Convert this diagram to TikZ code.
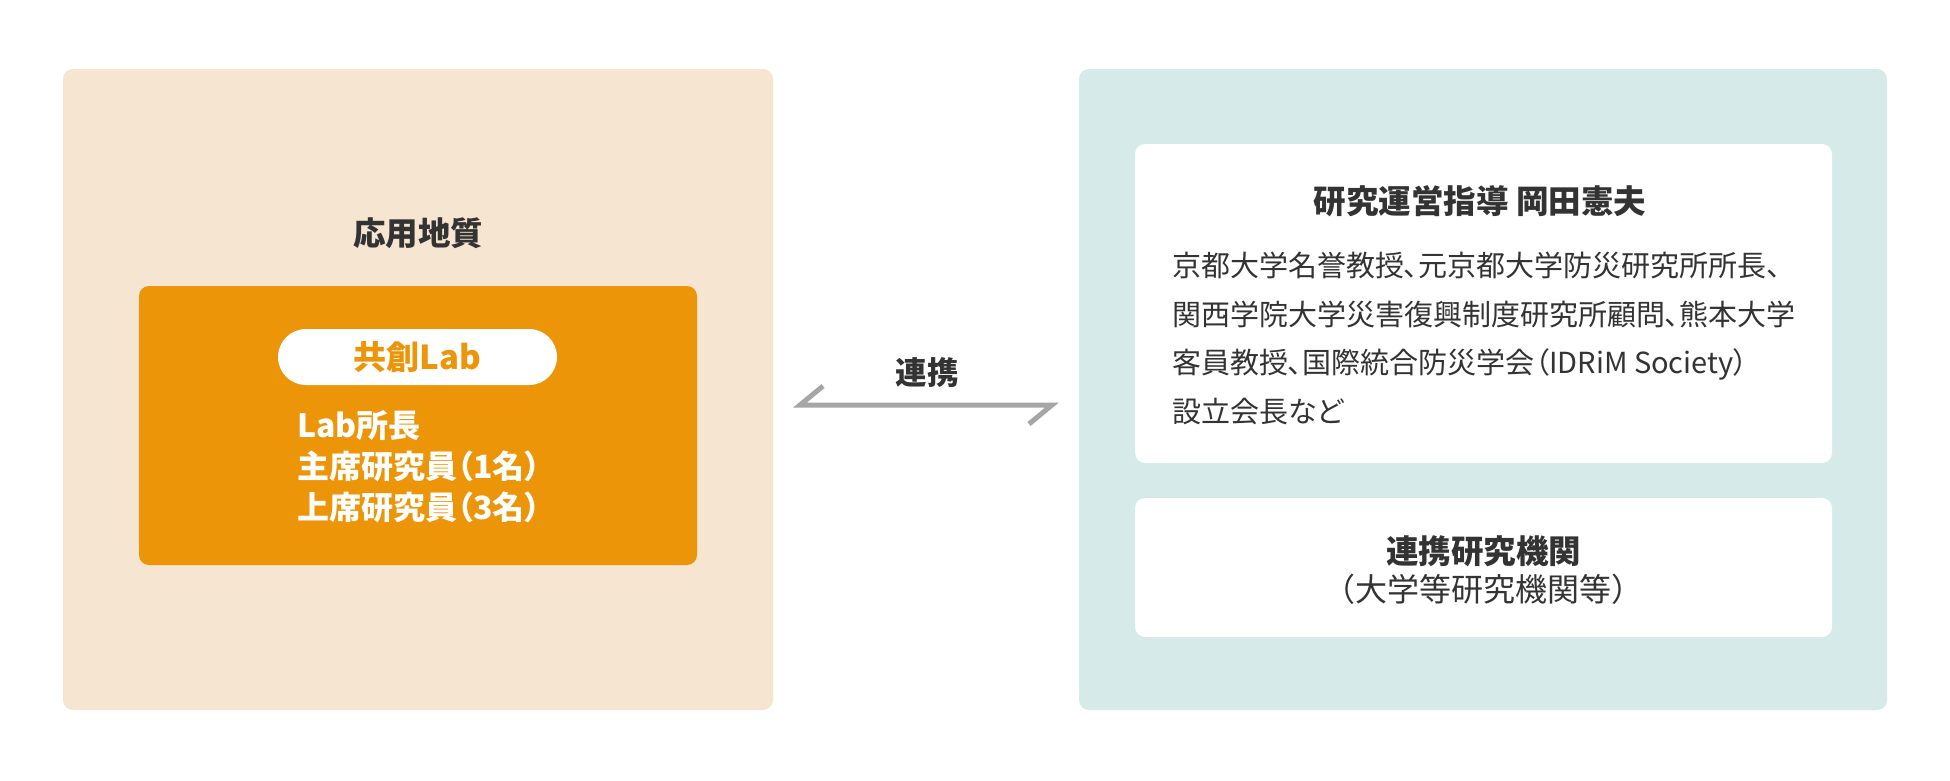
\documentclass[tikz,border=0pt]{standalone}
\usepackage{fontspec}
\setmainfont{Noto Sans CJK JP}
\newfontfamily\paltfont{Noto Sans CJK JP}[RawFeature=+palt]
\usetikzlibrary{positioning}

\definecolor{geobg}{HTML}{F5E5D1}
\definecolor{laborange}{HTML}{ED9508}
\definecolor{partnerbg}{HTML}{D5EAE9}
\definecolor{inktext}{HTML}{333333}
\definecolor{linkgray}{HTML}{A6A6A6}

\tikzset{
  panel/.style={rounded corners=10pt,inner sep=0pt},
  card/.style={panel,fill=white},
  heading/.style={inner sep=0pt,text=inktext,font=\fontsize{32.5}{40}\selectfont\bfseries},
  bodytext/.style={inner sep=0pt,text=inktext,align=left,font=\paltfont\fontsize{29}{48.6}\selectfont},
  link/.style={line width=5pt,draw=linkgray,miter limit=4}
}

\begin{document}
\begin{tikzpicture}[x=1pt,y=-1pt]
        \useasboundingbox (0,0) rectangle (1950,780);
        % left side
        \node[panel,fill=geobg,minimum width=710,minimum height=641] (geo) at (418,389.5) {};
        \node[heading] (geotitle) at (418,233) {応用地質};
        \node[panel,fill=laborange,minimum width=558,minimum height=279] (lab) at (418,425.5) {};
        \node[card,rounded corners=28pt,minimum width=279,minimum height=56] (pill) at (417.5,357) {};
        \node[heading,text=laborange,font=\fontsize{33}{36}\selectfont\bfseries] (labname) at (pill) {共創Lab};
        \node[inner sep=0pt,text=white,align=left,anchor=north west,
              font=\paltfont\fontsize{32}{41}\selectfont\bfseries] (members) at (297,410.5)
              {Lab所長\\主席研究員（1名）\\上席研究員（3名）};
        % right side
        \node[panel,fill=partnerbg,minimum width=808,minimum height=641] (partner) at (1483,389.5) {};
        \node[card,minimum width=697,minimum height=319] (advisor) at (1483.5,303.5) {};
        \node[heading] (advtitle) at (1480,201) {研究運営指導 岡田憲夫};
        \node[bodytext,anchor=north west] (advtext) at (1172,252)
              {京都大学名誉教授、元京都大学防災研究所所長、\\関西学院大学災害復興制度研究所顧問、熊本大学\\客員教授、国際統合防災学会（IDRiM Society）\\設立会長など};
        \node[card,minimum width=697,minimum height=139] (inst) at (1483.5,567.5) {};
        \node[heading] (insttitle) at (1483.5,551) {連携研究機関};
        \node[heading,font=\fontsize{32}{40}\selectfont] (instnote) at (1483.5,589) {（大学等研究機関等）};
        % link between the two
        \node[heading,font=\fontsize{31.5}{40}\selectfont\bfseries] (linklabel) at (927,373) {連携};
        \coordinate (hookL) at (823,386);
        \coordinate (endL) at (800,405);
        \coordinate (endR) at (1052,405);
        \coordinate (hookR) at (1029,424);
        \draw[link] (hookL) -- (endL) -- (endR) -- (hookR);
    \end{tikzpicture}
\end{document}
